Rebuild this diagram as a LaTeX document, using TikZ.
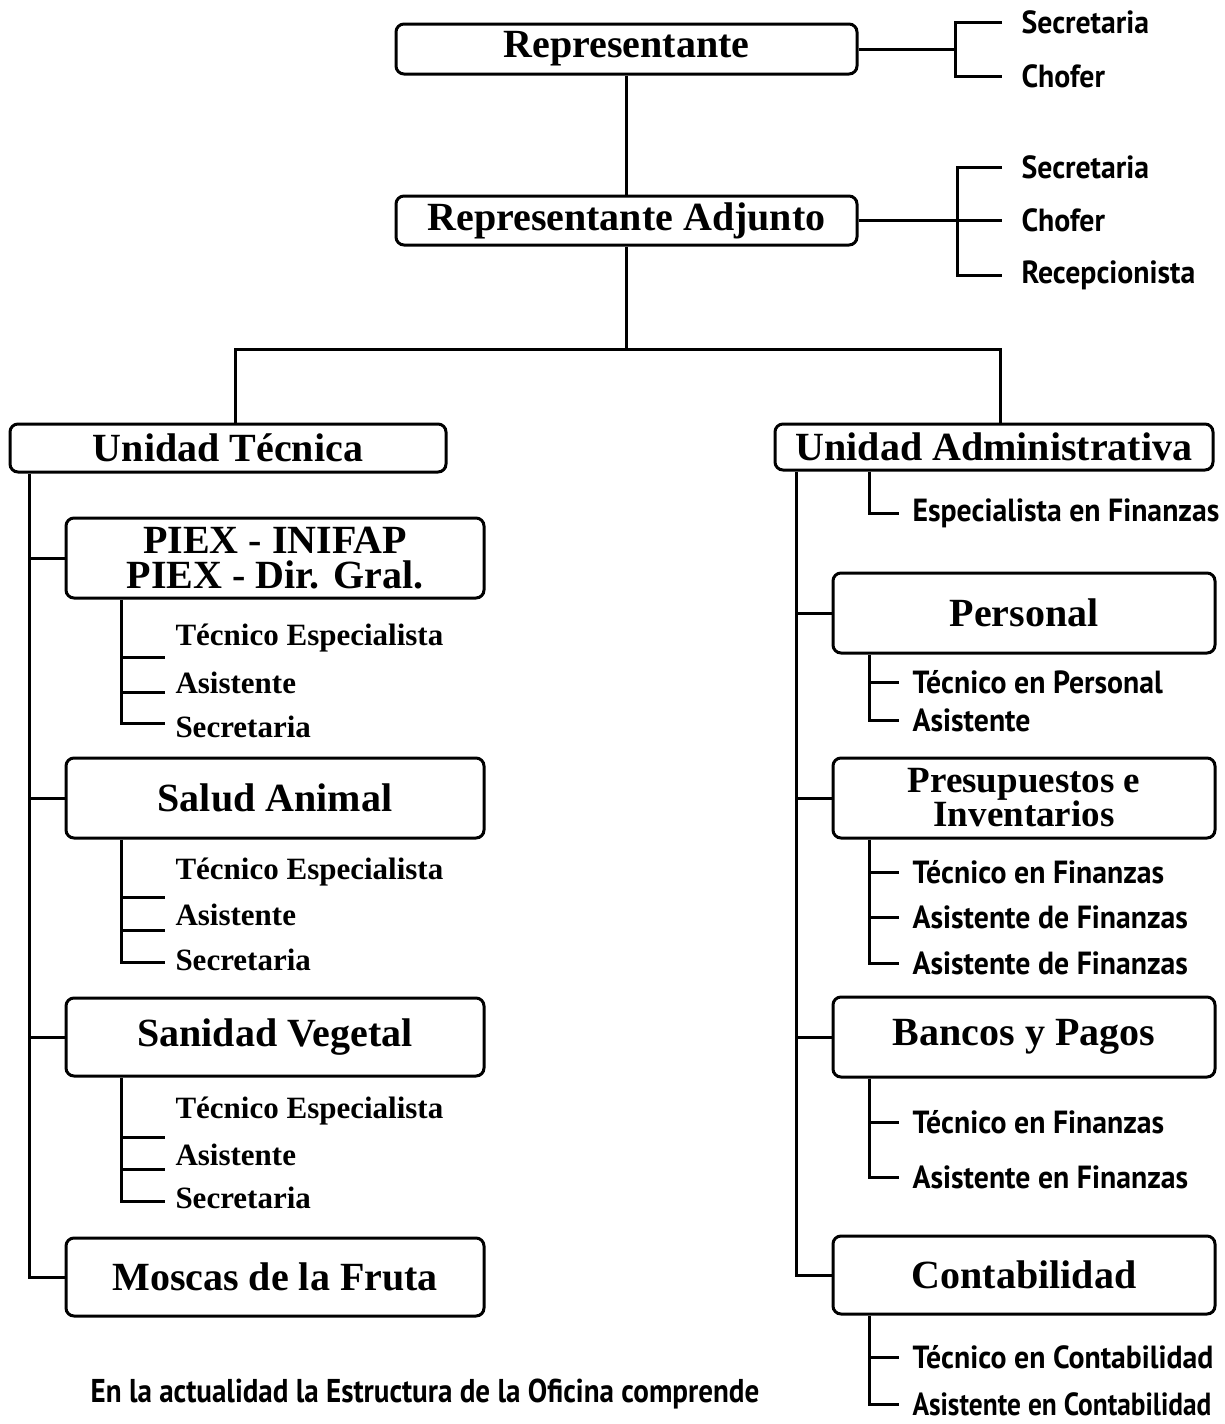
\documentclass[tikz,border=0pt]{standalone}
\usepackage{graphicx}
\usepackage{fontspec}
\setmainfont{Liberation Serif}
\newfontfamily\labfont[FakeStretch=0.93]{PT Sans}
\newfontfamily\notefont[FakeStretch=0.88]{PT Sans}
\begin{document}
\begin{tikzpicture}[x=0.5pt,y=-0.5pt,
  line width=1.5pt,
  box/.style={draw,rounded corners=4pt,line width=1.5pt,inner sep=0pt,align=center,
    font=\fontsize{20}{17.5}\selectfont\bfseries},
  rlab/.style={anchor=west,inner sep=0pt,font=\labfont\fontsize{16}{16}\selectfont\bfseries},
  llab/.style={anchor=west,inner sep=0pt,font=\fontsize{15.5}{15.5}\selectfont\bfseries},
  note/.style={inner sep=0pt,font=\notefont\fontsize{16.5}{17}\selectfont\bfseries}]
\useasboundingbox (0,0) rectangle (1225,1424);

% top
\node[box,minimum width=230.5pt,minimum height=25pt] (rep) at (626.5,49) {Representante};
\node[rlab] (rs1) at (1020,22) {Secretaria};
\node[rlab] (rs2) at (1020,76) {Chofer};
\coordinate (rb) at (955,49);
\draw (rep.east) -- (rb);
\draw ([xshift=-9pt]rs1.west) -| (rb) |- ([xshift=-9pt]rs2.west);

\node[box,minimum width=230.5pt,minimum height=24.5pt] (adj) at (626.5,220.5) {Representante Adjunto};
\node[rlab] (as1) at (1020,167) {Secretaria};
\node[rlab] (as2) at (1020,220) {Chofer};
\node[rlab] (as3) at (1020,275) {Recepcionista};
\coordinate (ab) at (957,220.5);
\draw (adj.east) -- (ab);
\draw ([xshift=-9pt]as1.west) -| (ab) |- ([xshift=-9pt]as3.west);
\draw (ab |- as2.west) -- ([xshift=-9pt]as2.west);

\draw (rep.south) -- (adj.north);

% units
\node[box,minimum width=218pt,minimum height=24pt] (ut) at (228,448) {Unidad Técnica};
\node[box,minimum width=219pt,minimum height=23pt] (ua) at (994,447) {Unidad Administrativa};
\coordinate (j) at (626.5,349);
\coordinate (jl) at (235,349);
\coordinate (jr) at (1000,349);
\draw (adj.south) -- (j);
\draw (jl |- ut.north) -- (jl) -- (jr) -- (jr |- ua.north);

% left side
\node[box,minimum width=209pt,minimum height=40pt] (piex) at (275,558)
  {PIEX - INIFAP\\PIEX - Dir. Gral.};
\node[box,minimum width=209pt,minimum height=40pt] (sa) at (275,798) {Salud Animal};
\node[box,minimum width=209pt,minimum height=39pt] (sv) at (275,1037) {Sanidad Vegetal};
\node[box,minimum width=209pt,minimum height=39pt] (mf) at (275,1277) {Moscas de la Fruta};

\coordinate (lt) at (29,0);
\draw (lt |- ut.south) -- (lt |- mf.west) -- (mf.west);
\draw (lt |- piex.west) -- (piex.west);
\draw (lt |- sa.west) -- (sa.west);
\draw (lt |- sv.west) -- (sv.west);

\coordinate (ls) at (121,0);
% PIEX sub
\node[llab] (p1) at (174,638) {Técnico Especialista};
\node[llab] (p2) at (174,683) {Asistente};
\node[llab] (p3) at (174,727) {Secretaria};
\coordinate (pt1) at (165,657); \coordinate (pt2) at (165,692); \coordinate (pt3) at (165,723);
\draw (ls |- piex.south) |- (pt3);
\draw (ls |- pt1) -- (pt1);
\draw (ls |- pt2) -- (pt2);
% Salud sub
\node[llab] (s1) at (174,872) {Técnico Especialista};
\node[llab] (s2) at (174,915) {Asistente};
\node[llab] (s3) at (174,960) {Secretaria};
\coordinate (st1) at (165,897); \coordinate (st2) at (165,930); \coordinate (st3) at (165,962);
\draw (ls |- sa.south) |- (st3);
\draw (ls |- st1) -- (st1);
\draw (ls |- st2) -- (st2);
% Sanidad sub
\node[llab] (v1) at (174,1111) {Técnico Especialista};
\node[llab] (v2) at (174,1155) {Asistente};
\node[llab] (v3) at (174,1198) {Secretaria};
\coordinate (vt1) at (165,1137); \coordinate (vt2) at (165,1169); \coordinate (vt3) at (165,1201);
\draw (ls |- sv.south) |- (vt3);
\draw (ls |- vt1) -- (vt1);
\draw (ls |- vt2) -- (vt2);

% right side
\node[rlab] (ef) at (911,513) {Especialista en Finanzas};
\coordinate (rs) at (869,0);
\draw (rs |- ua.south) |- ([xshift=-6pt]ef.west);

\node[box,minimum width=191pt,minimum height=40pt] (pe) at (1024,613) {Personal};
\node[box,minimum width=191pt,minimum height=40pt,font=\fontsize{18.5}{17}\selectfont\bfseries] (pi) at (1024,798)
  {Presupuestos e\\Inventarios};
\node[box,minimum width=191pt,minimum height=40pt] (bp) at (1024,1037) {Bancos y Pagos};
\node[box,minimum width=191pt,minimum height=39pt] (co) at (1024,1275) {Contabilidad};

\coordinate (rt) at (796,0);
\draw (rt |- ua.south) -- (rt |- co.west) -- (co.west);
\draw (rt |- pe.west) -- (pe.west);
\draw (rt |- pi.west) -- (pi.west);
\draw (rt |- bp.west) -- (bp.west);

\node[rlab] (pe1) at (911,682) {Técnico en Personal};
\node[rlab] (pe2) at (911,720) {Asistente};
\draw (rs |- pe.south) |- ([xshift=-6pt]pe2.west);
\draw (rs |- pe1.west) -- ([xshift=-6pt]pe1.west);

\node[rlab] (pi1) at (911,872) {Técnico en Finanzas};
\node[rlab] (pi2) at (911,917) {Asistente de Finanzas};
\node[rlab] (pi3) at (911,963) {Asistente de Finanzas};
\draw (rs |- pi.south) |- ([xshift=-6pt]pi3.west);
\draw (rs |- pi1.west) -- ([xshift=-6pt]pi1.west);
\draw (rs |- pi2.west) -- ([xshift=-6pt]pi2.west);

\node[rlab] (bp1) at (911,1122) {Técnico en Finanzas};
\node[rlab] (bp2) at (911,1177) {Asistente en Finanzas};
\draw (rs |- bp.south) |- ([xshift=-6pt]bp2.west);
\draw (rs |- bp1.west) -- ([xshift=-6pt]bp1.west);

\node[rlab] (co1) at (911,1357) {Técnico en Contabilidad};
\node[rlab] (co2) at (911,1404) {\scalebox{0.92}[1]{Asistente en Contabilidad}};
\draw (rs |- co.south) |- ([xshift=-6pt]co2.west);
\draw (rs |- co1.west) -- ([xshift=-6pt]co1.west);

% note
\node[note] (nt) at (425,1394) {En la actualidad la Estructura de la Oficina comprende};
\end{tikzpicture}
\end{document}
